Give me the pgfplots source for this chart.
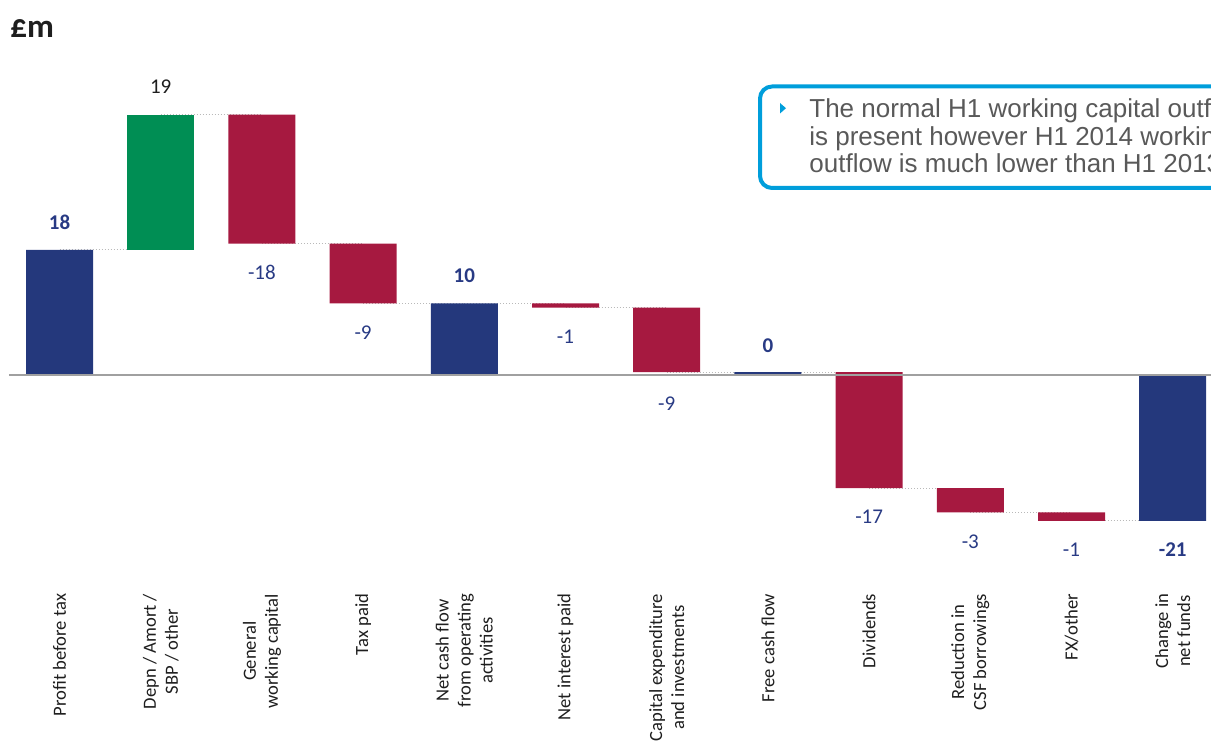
\documentclass[border=0pt]{standalone}
\usepackage{pgfplots}
\pgfplotsset{compat=1.18}
\usepackage{fontspec}
\setmainfont{Carlito}
\newfontfamily\arialfont{Liberation Sans}
\definecolor{cfblue}{RGB}{36,56,124}
\definecolor{cfgreen}{RGB}{0,142,84}
\definecolor{cfred}{RGB}{166,25,64}
\definecolor{lblblue}{RGB}{40,58,132}
\definecolor{boxcyan}{RGB}{0,158,219}
\definecolor{txtgray}{RGB}{89,89,89}
\definecolor{zerogray}{RGB}{160,160,160}
\definecolor{congray}{RGB}{185,185,185}
\definecolor{darktxt}{RGB}{30,30,30}
\tikzset{
  vpos/.style={font=\fontsize{10.5}{12}\selectfont, yshift=14pt, inner sep=0},
  vneg/.style={font=\fontsize{10.5}{12}\selectfont, yshift=-14.5pt, inner sep=0, text=lblblue},
}
\begin{document}
\begin{tikzpicture}
\begin{scope}
\clip (0,0) rectangle (605.5pt,-371pt);
\node[anchor=base west, inner sep=0, font=\fontsize{16.5}{19}\selectfont\bfseries, text=darktxt] at (5pt,-19pt) {£m};
\begin{axis}[
  at={(4.45pt,-293.4pt)}, anchor=south west,
  scale only axis, width=607.2pt, height=244.8pt,
  xmin=-0.5, xmax=11.5, ymin=-30.5, ymax=40,
  ybar stacked, stack negative=on previous, bar width=33.5pt,
  axis line style={draw=none}, tick style={draw=none},
  major tick length=0pt,
  ytick=\empty, xtick={0,...,11},
  xticklabels={{Profit before tax},{Depn / Amort /\\SBP / other},{General\\working capital},{Tax paid},{Net cash flow\\from operating\\activities},{Net interest paid},{Capital expenditure\\and investments},{Free cash flow},{Dividends},{Reduction in\\CSF borrowings},{FX/other},{Change in\\net funds}},
  xticklabel style={rotate=90, anchor=east, align=center, font=\fontsize{9.3}{11}\selectfont, text=darktxt},
  clip=false,
]
\draw[zerogray, line width=0.75pt] (axis cs:-0.5,0) -- (axis cs:11.5,0);
% invisible base (lower end of each floating bar)
\addplot[draw=none, fill=none] coordinates {(0,0) (1,18) (2,18.9) (3,10.3) (4,0) (5,9.7) (6,0.4) (7,0) (8,-16.3) (9,-19.8) (10,-21.0) (11,-21.0)};
% totals (blue)
\addplot[draw=none, fill=cfblue] coordinates {(0,18) (1,0) (2,0) (3,0) (4,10.3) (5,0) (6,0) (7,0.4) (8,0) (9,0) (10,0) (11,21.0)};
% increases (green)
\addplot[draw=none, fill=cfgreen] coordinates {(0,0) (1,19.5) (2,0) (3,0) (4,0) (5,0) (6,0) (7,0) (8,0) (9,0) (10,0) (11,0)};
% decreases (red)
\addplot[draw=none, fill=cfred] coordinates {(0,0) (1,0) (2,18.6) (3,8.6) (4,0) (5,0.6) (6,9.3) (7,0) (8,16.7) (9,3.5) (10,1.2) (11,0)};
% connectors
\addplot[stack plots=false, sharp plot, no markers, draw=congray, line width=0.5pt, densely dotted] coordinates {(0,18) (1,18)};
\addplot[stack plots=false, sharp plot, no markers, draw=congray, line width=0.5pt, densely dotted] coordinates {(1,37.5) (2,37.5)};
\addplot[stack plots=false, sharp plot, no markers, draw=congray, line width=0.5pt, densely dotted] coordinates {(2,18.9) (3,18.9)};
\addplot[stack plots=false, sharp plot, no markers, draw=congray, line width=0.5pt, densely dotted] coordinates {(3,10.3) (4,10.3)};
\addplot[stack plots=false, sharp plot, no markers, draw=congray, line width=0.5pt, densely dotted] coordinates {(4,10.3) (5,10.3)};
\addplot[stack plots=false, sharp plot, no markers, draw=congray, line width=0.5pt, densely dotted] coordinates {(5,9.7) (6,9.7)};
\addplot[stack plots=false, sharp plot, no markers, draw=congray, line width=0.5pt, densely dotted] coordinates {(6,0.4) (7,0.4)};
\addplot[stack plots=false, sharp plot, no markers, draw=congray, line width=0.5pt, densely dotted] coordinates {(7,0.4) (8,0.4)};
\addplot[stack plots=false, sharp plot, no markers, draw=congray, line width=0.5pt, densely dotted] coordinates {(8,-16.3) (9,-16.3)};
\addplot[stack plots=false, sharp plot, no markers, draw=congray, line width=0.5pt, densely dotted] coordinates {(9,-19.8) (10,-19.8)};
\addplot[stack plots=false, sharp plot, no markers, draw=congray, line width=0.5pt, densely dotted] coordinates {(10,-21.0) (11,-21.0)};
% value labels
\node[vpos, text=lblblue] at (axis cs:0,18) {\bfseries 18};
\node[vpos, text=darktxt] at (axis cs:1,37.5) {19};
\node[vneg] at (axis cs:2,18.9) {-18};
\node[vneg] at (axis cs:3,10.3) {-9};
\node[vpos, text=lblblue] at (axis cs:4,10.3) {\bfseries 10};
\node[vneg] at (axis cs:5,9.7) {-1};
\node[vneg, yshift=-1pt] at (axis cs:6,0.4) {-9};
\node[vpos, text=lblblue, yshift=-0.5pt] at (axis cs:7,0.4) {\bfseries 0};
\node[vneg] at (axis cs:8,-16.3) {-17};
\node[vneg] at (axis cs:9,-19.8) {-3};
\node[vneg] at (axis cs:10,-21.0) {-1};
\node[vneg] at (axis cs:11,-21.0) {\bfseries -21};
\end{axis}
% callout
\draw[boxcyan, line width=2pt, rounded corners=6pt] (380pt,-43.25pt) rectangle (640pt,-94pt);
\fill[boxcyan] (390pt,-51.5pt) -- (390pt,-56.75pt) -- (393pt,-54.1pt) -- cycle;
\node[anchor=base west, inner sep=0, font=\arialfont\fontsize{13}{14}\selectfont, text=txtgray] at (404.5pt,-59pt) {The normal H1 working capital outflow};
\node[anchor=base west, inner sep=0, font=\arialfont\fontsize{13}{14}\selectfont, text=txtgray] at (404.5pt,-72.75pt) {is present however H1 2014 working capital};
\node[anchor=base west, inner sep=0, font=\arialfont\fontsize{13}{14}\selectfont, text=txtgray] at (404.5pt,-86.5pt) {outflow is much lower than H1 2013};
\end{scope}
\end{tikzpicture}
\end{document}
